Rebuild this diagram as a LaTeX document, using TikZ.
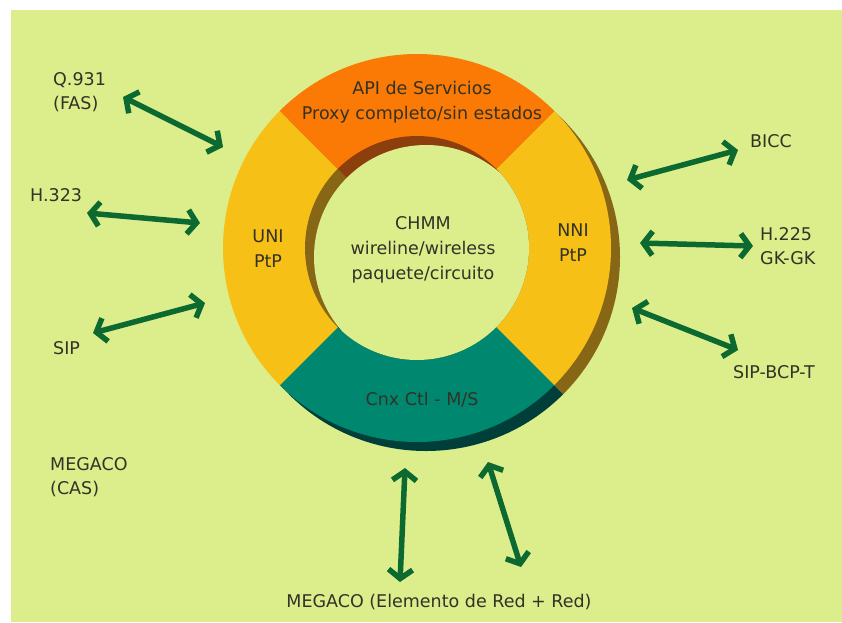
\documentclass[tikz,border=0pt]{standalone}
\usepackage{fontspec}
\setmainfont{DejaVu Sans}
\usetikzlibrary{arrows.meta}

\definecolor{paper}{RGB}{220,238,140}
\definecolor{apiorange}{RGB}{250,122,5}
\definecolor{apiorangedark}{RGB}{140,62,12}
\definecolor{ringgold}{RGB}{247,192,22}
\definecolor{ringgolddark}{RGB}{135,102,22}
\definecolor{ctlteal}{RGB}{0,135,112}
\definecolor{ctltealdark}{RGB}{0,62,58}
\definecolor{linkgreen}{RGB}{12,105,48}
\definecolor{ink}{RGB}{50,50,38}

% one pie slice of the ring: centre, start angle, end angle, radius, colour
\newcommand\ringslice[5]{\fill[#5] (#1) -- ++(#2:#4) arc[start angle=#2, end angle=#3, radius=#4] -- cycle;}

\begin{document}
\begin{tikzpicture}[x=1pt,y=-1pt,
  lbl/.style={inner sep=0pt, text=ink, font=\fontsize{17.5}{24}\selectfont, align=left},
  ringtxt/.style={inner sep=0pt, text=ink, font=\fontsize{17.5}{25}\selectfont, align=center},
  link/.style={draw=linkgreen, line width=5.5pt, >={Straight Barb[length=9pt,width=24pt]}, <->},
]
\useasboundingbox (0,0) rectangle (842,622);
\fill[white] (0,0) rectangle (842,622);
\fill[paper] (11,10) rectangle (842,622);

% ring: C is the top face, S the shifted body below it
\coordinate (C) at (417,248);
\coordinate (S) at (426,257);
\def\ringR{194}
\def\ringr{112}

% body (outer shadow)
\ringslice{S}{-45}{45}{\ringR}{ringgolddark}
\ringslice{S}{45}{135}{\ringR}{ctltealdark}
\ringslice{S}{135}{225}{\ringR}{ringgolddark}
\ringslice{S}{225}{315}{\ringR}{apiorangedark}

% top face
\ringslice{C}{-45}{45}{\ringR}{ringgold}
\ringslice{C}{45}{135}{\ringR}{ctlteal}
\ringslice{C}{135}{225}{\ringR}{ringgold}
\ringslice{C}{225}{315}{\ringR}{apiorange}

% inner wall of the hole
\ringslice{C}{-45}{45}{\ringr}{ringgolddark}
\ringslice{C}{45}{135}{\ringr}{ctltealdark}
\ringslice{C}{135}{225}{\ringr}{ringgolddark}
\ringslice{C}{225}{315}{\ringr}{apiorangedark}

% floor of the hole
\begin{scope}
  \clip (C) circle (\ringr);
  \fill[paper] (S) circle (\ringr);
\end{scope}

% texts on the ring
\node[ringtxt] (api) at (422,102) {API de Servicios\\Proxy completo/sin estados};
\node[ringtxt] (chmm) at (423,250) {CHMM\\wireline/wireless\\paquete/circuito};
\node[ringtxt] (uni) at (268,249) {UNI\\PtP};
\node[ringtxt] (nni) at (573,243) {NNI\\PtP};
\node[ringtxt] (cnx) at (422,400) {Cnx Ctl - M/S};

% protocol labels
\node[lbl, anchor=west] (q931) at (53,92) {Q.931\\(FAS)};
\node[lbl, anchor=west] (h323) at (30,195) {H.323};
\node[lbl, anchor=west] (sip) at (53,348) {SIP};
\node[lbl, anchor=west] (cas) at (50,477) {MEGACO\\(CAS)};
\node[lbl, anchor=west] (bicc) at (750,141) {BICC};
\node[lbl, anchor=west] (h225) at (760,246) {H.225\\GK-GK};
\node[lbl, anchor=west] (sipbcp) at (733,372) {SIP-BCP-T};
\node[lbl] (mgc) at (439,602) {MEGACO (Elemento de Red + Red)};

% arrow end points
\coordinate (q931a) at (123,97);   \coordinate (q931b) at (223,147);
\coordinate (h323a) at (87,213);   \coordinate (h323b) at (200,223);
\coordinate (sipa) at (93,333);    \coordinate (sipb) at (205,303);
\coordinate (bicca) at (627,180);  \coordinate (biccb) at (738,150);
\coordinate (h225a) at (640,243);  \coordinate (h225b) at (753,246);
\coordinate (sbta) at (632,308);   \coordinate (sbtb) at (738,350);
\coordinate (mga) at (405,468);    \coordinate (mgb) at (400,582);
\coordinate (mgc1) at (488,462);   \coordinate (mgc2) at (521,567);

\draw[link] (q931a) -- (q931b);
\draw[link] (h323a) -- (h323b);
\draw[link] (sipa) -- (sipb);
\draw[link] (bicca) -- (biccb);
\draw[link] (h225a) -- (h225b);
\draw[link] (sbta) -- (sbtb);
\draw[link] (mga) -- (mgb);
\draw[link] (mgc1) -- (mgc2);
\end{tikzpicture}
\end{document}
